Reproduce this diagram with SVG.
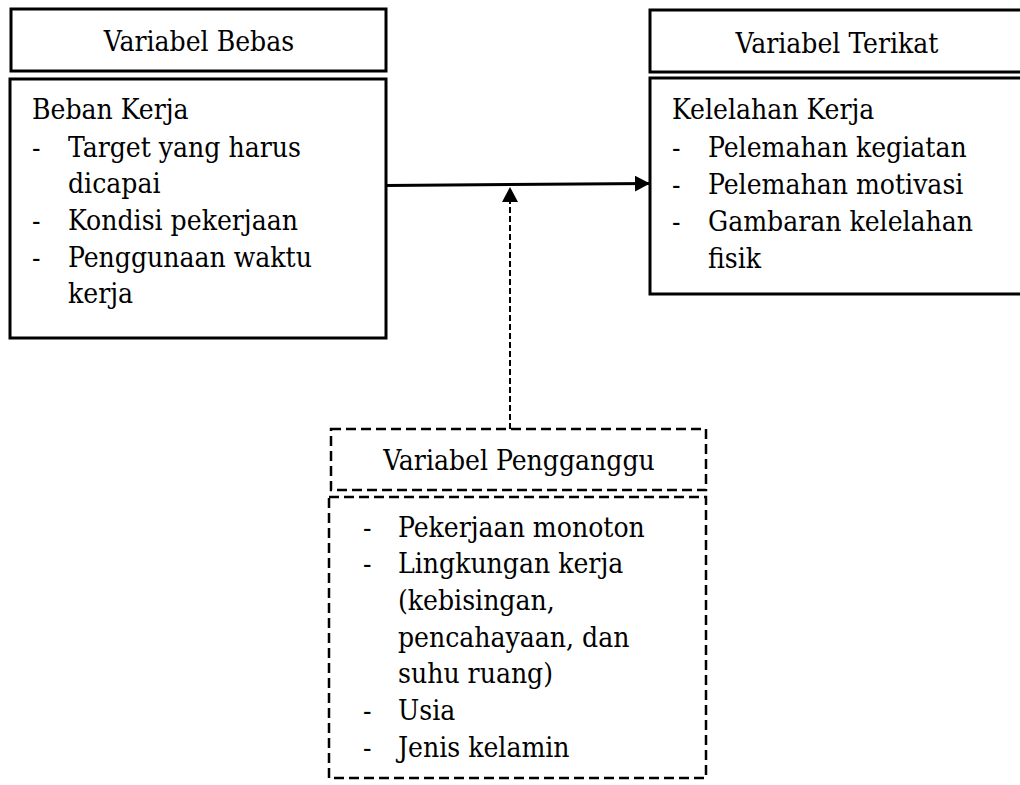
<svg xmlns="http://www.w3.org/2000/svg" width="1020" height="785" viewBox="0 0 1020 785">
<style>
text{font-family:'DejaVu Serif Condensed','DejaVu Serif',serif;font-stretch:condensed;font-size:28px;fill:#000}
.box{fill:#fff;stroke:#000;stroke-width:3}
.dbox{fill:#fff;stroke:#000;stroke-width:2.5;stroke-dasharray:10,5}
.c{text-anchor:middle}
</style>
<defs>
<marker id="ah" markerUnits="userSpaceOnUse" markerWidth="16" markerHeight="18" refX="15" refY="8" orient="auto">
<path d="M0,0 L15,8 L0,16 Z" fill="#000"/>
</marker>
</defs>
<rect width="1020" height="785" fill="#fff"/>
<g id="bebas">
<rect class="box" x="11" y="9" width="375" height="62"/>
<text class="c" x="199" y="51">Variabel Bebas</text>
<rect class="box" x="10" y="79" width="376" height="259"/>
<text x="32" y="119">Beban Kerja</text>
<text x="32" y="157">-</text><text x="68" y="157">Target yang harus</text>
<text x="68" y="193">dicapai</text>
<text x="32" y="230">-</text><text x="68" y="230">Kondisi pekerjaan</text>
<text x="32" y="267">-</text><text x="68" y="267">Penggunaan waktu</text>
<text x="68" y="303">kerja</text>
</g>
<g id="terikat">
<rect class="box" x="650" y="10" width="380" height="62"/>
<text class="c" x="837" y="53">Variabel Terikat</text>
<rect class="box" x="650" y="78" width="380" height="216"/>
<text x="672" y="119">Kelelahan Kerja</text>
<text x="672" y="157">-</text><text x="708" y="157">Pelemahan kegiatan</text>
<text x="672" y="194">-</text><text x="708" y="194">Pelemahan motivasi</text>
<text x="672" y="231">-</text><text x="708" y="231">Gambaran kelelahan</text>
<text x="708" y="268">fisik</text>
</g>
<g id="pengganggu">
<rect class="dbox" x="331" y="429" width="375" height="61"/>
<text class="c" x="519" y="470">Variabel Pengganggu</text>
<rect class="dbox" x="329" y="497" width="377" height="281"/>
<text x="363" y="537">-</text><text x="398" y="537">Pekerjaan monoton</text>
<text x="363" y="573">-</text><text x="398" y="573">Lingkungan kerja</text>
<text x="398" y="610">(kebisingan,</text>
<text x="398" y="647">pencahayaan, dan</text>
<text x="398" y="683">suhu ruang)</text>
<text x="363" y="720">-</text><text x="398" y="720">Usia</text>
<text x="363" y="757">-</text><text x="398" y="757">Jenis kelamin</text>
</g>
<g id="connectors">
<line x1="386" y1="185.5" x2="650" y2="183.5" stroke="#000" stroke-width="3" marker-end="url(#ah)"/>
<line x1="510" y1="429" x2="510" y2="187" stroke="#000" stroke-width="2" stroke-dasharray="6,3" marker-end="url(#ah)"/>
</g>
</svg>
